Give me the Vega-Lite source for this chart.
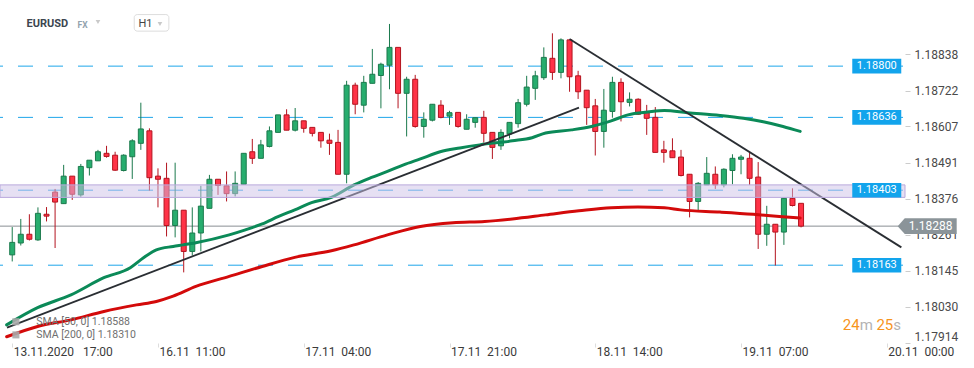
{
  "$schema": "https://vega.github.io/schema/vega-lite/v6.json",
  "width": 905,
  "height": 343,
  "autosize": "none",
  "padding": {"left": 0, "top": 0, "right": 69, "bottom": 25},
  "background": "white",
  "config": {"view": {"stroke": null}, "font": "Roboto"},
  "data": {"values": [{}]},
  "datasets": {
    "candles": [
      {"i":0,"o":1.18196,"h":1.18285,"l":1.18175,"c":1.18236},
      {"i":1,"o":1.18234,"h":1.18311,"l":1.18226,"c":1.18262},
      {"i":2,"o":1.18262,"h":1.18326,"l":1.18242,"c":1.18246},
      {"i":3,"o":1.18244,"h":1.18348,"l":1.18241,"c":1.18329},
      {"i":4,"o":1.18326,"h":1.18349,"l":1.18303,"c":1.18320},
      {"i":5,"o":1.18397,"h":1.18407,"l":1.18218,"c":1.18365},
      {"i":6,"o":1.18360,"h":1.18484,"l":1.18360,"c":1.18448},
      {"i":7,"o":1.18448,"h":1.18448,"l":1.18372,"c":1.18390},
      {"i":8,"o":1.18388,"h":1.18487,"l":1.18382,"c":1.18479},
      {"i":9,"o":1.18475,"h":1.18499,"l":1.18450,"c":1.18499},
      {"i":10,"o":1.18497,"h":1.18532,"l":1.18497,"c":1.18526},
      {"i":11,"o":1.18521,"h":1.18545,"l":1.18507,"c":1.18511},
      {"i":12,"o":1.18515,"h":1.18526,"l":1.18465,"c":1.18467},
      {"i":13,"o":1.18466,"h":1.18518,"l":1.18463,"c":1.18515},
      {"i":14,"o":1.18510,"h":1.18566,"l":1.18439,"c":1.18561},
      {"i":15,"o":1.18553,"h":1.18683,"l":1.18532,"c":1.18599},
      {"i":16,"o":1.18593,"h":1.18601,"l":1.18402,"c":1.18443},
      {"i":17,"o":1.18448,"h":1.18473,"l":1.18348,"c":1.18438},
      {"i":18,"o":1.18441,"h":1.18491,"l":1.18255,"c":1.18290},
      {"i":19,"o":1.18290,"h":1.18491,"l":1.18252,"c":1.18339},
      {"i":20,"o":1.18339,"h":1.18339,"l":1.18140,"c":1.18207},
      {"i":21,"o":1.18207,"h":1.18348,"l":1.18194,"c":1.18266},
      {"i":22,"o":1.18266,"h":1.18417,"l":1.18207,"c":1.18352},
      {"i":23,"o":1.18345,"h":1.18452,"l":1.18345,"c":1.18438},
      {"i":24,"o":1.18438,"h":1.18438,"l":1.18388,"c":1.18418},
      {"i":25,"o":1.18417,"h":1.18463,"l":1.18367,"c":1.18392},
      {"i":26,"o":1.18392,"h":1.18463,"l":1.18383,"c":1.18425},
      {"i":27,"o":1.18422,"h":1.18521,"l":1.18422,"c":1.18521},
      {"i":28,"o":1.18526,"h":1.18567,"l":1.18487,"c":1.18505},
      {"i":29,"o":1.18505,"h":1.18564,"l":1.18505,"c":1.18548},
      {"i":30,"o":1.18543,"h":1.18607,"l":1.18540,"c":1.18593},
      {"i":31,"o":1.18588,"h":1.18644,"l":1.18588,"c":1.18644},
      {"i":32,"o":1.18644,"h":1.18662,"l":1.18595,"c":1.18595},
      {"i":33,"o":1.18595,"h":1.18666,"l":1.18591,"c":1.18625},
      {"i":34,"o":1.18625,"h":1.18625,"l":1.18587,"c":1.18601},
      {"i":35,"o":1.18604,"h":1.18604,"l":1.18575,"c":1.18585},
      {"i":36,"o":1.18588,"h":1.18588,"l":1.18539,"c":1.18561},
      {"i":37,"o":1.18563,"h":1.18584,"l":1.18516,"c":1.18553},
      {"i":38,"o":1.18556,"h":1.18596,"l":1.18454,"c":1.18454},
      {"i":39,"o":1.18454,"h":1.18753,"l":1.18425,"c":1.18739},
      {"i":40,"o":1.18739,"h":1.18747,"l":1.18646,"c":1.18678},
      {"i":41,"o":1.18675,"h":1.18769,"l":1.18652,"c":1.18748},
      {"i":42,"o":1.18745,"h":1.18855,"l":1.18745,"c":1.18774},
      {"i":43,"o":1.18770,"h":1.18811,"l":1.18665,"c":1.18806},
      {"i":44,"o":1.18803,"h":1.18935,"l":1.18726,"c":1.18860},
      {"i":45,"o":1.18860,"h":1.18860,"l":1.18665,"c":1.18713},
      {"i":46,"o":1.18713,"h":1.18766,"l":1.18575,"c":1.18758},
      {"i":47,"o":1.18758,"h":1.18772,"l":1.18603,"c":1.18607},
      {"i":48,"o":1.18607,"h":1.18652,"l":1.18571,"c":1.18630},
      {"i":49,"o":1.18627,"h":1.18678,"l":1.18623,"c":1.18678},
      {"i":50,"o":1.18675,"h":1.18691,"l":1.18633,"c":1.18636},
      {"i":51,"o":1.18640,"h":1.18657,"l":1.18612,"c":1.18651},
      {"i":52,"o":1.18652,"h":1.18652,"l":1.18603,"c":1.18607},
      {"i":53,"o":1.18598,"h":1.18646,"l":1.18598,"c":1.18630},
      {"i":54,"o":1.18620,"h":1.18635,"l":1.18603,"c":1.18635},
      {"i":55,"o":1.18636,"h":1.18657,"l":1.18555,"c":1.18585},
      {"i":56,"o":1.18588,"h":1.18588,"l":1.18503,"c":1.18540},
      {"i":57,"o":1.18545,"h":1.18598,"l":1.18532,"c":1.18588},
      {"i":58,"o":1.18583,"h":1.18620,"l":1.18569,"c":1.18620},
      {"i":59,"o":1.18616,"h":1.18695,"l":1.18603,"c":1.18683},
      {"i":60,"o":1.18678,"h":1.18769,"l":1.18671,"c":1.18733},
      {"i":61,"o":1.18729,"h":1.18785,"l":1.18692,"c":1.18769},
      {"i":62,"o":1.18763,"h":1.18860,"l":1.18756,"c":1.18828},
      {"i":63,"o":1.18825,"h":1.18905,"l":1.18756,"c":1.18780},
      {"i":64,"o":1.18780,"h":1.18889,"l":1.18761,"c":1.18884},
      {"i":65,"o":1.18884,"h":1.18884,"l":1.18718,"c":1.18766},
      {"i":66,"o":1.18769,"h":1.18785,"l":1.18695,"c":1.18718},
      {"i":67,"o":1.18723,"h":1.18723,"l":1.18612,"c":1.18667},
      {"i":68,"o":1.18673,"h":1.18695,"l":1.18514,"c":1.18591},
      {"i":69,"o":1.18591,"h":1.18727,"l":1.18539,"c":1.18659},
      {"i":70,"o":1.18655,"h":1.18766,"l":1.18635,"c":1.18748},
      {"i":71,"o":1.18748,"h":1.18761,"l":1.18623,"c":1.18686},
      {"i":72,"o":1.18684,"h":1.18716,"l":1.18671,"c":1.18694},
      {"i":73,"o":1.18694,"h":1.18697,"l":1.18644,"c":1.18646},
      {"i":74,"o":1.18655,"h":1.18676,"l":1.18580,"c":1.18633},
      {"i":75,"o":1.18636,"h":1.18669,"l":1.18524,"c":1.18524},
      {"i":76,"o":1.18532,"h":1.18561,"l":1.18491,"c":1.18524},
      {"i":77,"o":1.18529,"h":1.18569,"l":1.18507,"c":1.18507},
      {"i":78,"o":1.18509,"h":1.18532,"l":1.18447,"c":1.18450},
      {"i":79,"o":1.18454,"h":1.18454,"l":1.18316,"c":1.18367},
      {"i":80,"o":1.18367,"h":1.18429,"l":1.18335,"c":1.18425},
      {"i":81,"o":1.18420,"h":1.18509,"l":1.18420,"c":1.18457},
      {"i":82,"o":1.18454,"h":1.18479,"l":1.18407,"c":1.18420},
      {"i":83,"o":1.18420,"h":1.18473,"l":1.18412,"c":1.18470},
      {"i":84,"o":1.18466,"h":1.18518,"l":1.18422,"c":1.18505},
      {"i":85,"o":1.18502,"h":1.18516,"l":1.18454,"c":1.18509},
      {"i":86,"o":1.18505,"h":1.18527,"l":1.18420,"c":1.18441},
      {"i":87,"o":1.18445,"h":1.18493,"l":1.18215,"c":1.18262},
      {"i":88,"o":1.18262,"h":1.18353,"l":1.18225,"c":1.18294},
      {"i":89,"o":1.18294,"h":1.18294,"l":1.18162,"c":1.18269},
      {"i":90,"o":1.18269,"h":1.18377,"l":1.18228,"c":1.18377},
      {"i":91,"o":1.18377,"h":1.18409,"l":1.18351,"c":1.18354},
      {"i":92,"o":1.18361,"h":1.18361,"l":1.18284,"c":1.18288}
    ],
    "sma": [
      {"s":"50","i":-0.65,"v":1.17972},{"s":"50","i":2.96,"v":1.18027},{"s":"50","i":6.85,"v":1.18068},
      {"s":"50","i":10.69,"v":1.18123},{"s":"50","i":13.77,"v":1.18155},{"s":"50","i":15.31,"v":1.18187},
      {"s":"50","i":16.81,"v":1.18212},{"s":"50","i":18.77,"v":1.18223},{"s":"50","i":19.92,"v":1.18228},
      {"s":"50","i":21.42,"v":1.18235},{"s":"50","i":25.31,"v":1.18260},{"s":"50","i":27.19,"v":1.18276},
      {"s":"50","i":29.15,"v":1.18295},{"s":"50","i":31.07,"v":1.18319},{"s":"50","i":32.95,"v":1.18340},
      {"s":"50","i":34.91,"v":1.18363},{"s":"50","i":37.22,"v":1.18380},{"s":"50","i":39.87,"v":1.18420},
      {"s":"50","i":41.83,"v":1.18443},{"s":"50","i":43.76,"v":1.18463},{"s":"50","i":45.64,"v":1.18484},
      {"s":"50","i":47.6,"v":1.18503},{"s":"50","i":49.91,"v":1.18526},{"s":"50","i":52.21,"v":1.18538},
      {"s":"50","i":54.52,"v":1.18548},{"s":"50","i":58.33,"v":1.18561},{"s":"50","i":60.63,"v":1.18571},
      {"s":"50","i":62.21,"v":1.18586},{"s":"50","i":65.25,"v":1.18596},{"s":"50","i":67.55,"v":1.18607},
      {"s":"50","i":69.86,"v":1.18625},{"s":"50","i":71.82,"v":1.18644},{"s":"50","i":74.13,"v":1.18653},
      {"s":"50","i":76.06,"v":1.18658},{"s":"50","i":78.74,"v":1.18651},{"s":"50","i":82.55,"v":1.18642},
      {"s":"50","i":85.28,"v":1.18633},{"s":"50","i":87.59,"v":1.18622},{"s":"50","i":89.9,"v":1.18607},
      {"s":"50","i":91.9,"v":1.18591},
      {"s":"200","i":-0.65,"v":1.17934},{"s":"200","i":2.96,"v":1.17967},{"s":"200","i":6.85,"v":1.17988},
      {"s":"200","i":10.69,"v":1.18015},{"s":"200","i":14.5,"v":1.18036},{"s":"200","i":16.81,"v":1.18047},
      {"s":"200","i":18.77,"v":1.18064},{"s":"200","i":21.42,"v":1.18095},{"s":"200","i":25.31,"v":1.18127},
      {"s":"200","i":29.15,"v":1.18159},{"s":"200","i":32.95,"v":1.18188},{"s":"200","i":37.22,"v":1.18209},
      {"s":"200","i":39.87,"v":1.18228},{"s":"200","i":43.76,"v":1.18260},{"s":"200","i":47.6,"v":1.18287},
      {"s":"200","i":51.41,"v":1.18299},{"s":"200","i":55.1,"v":1.18303},{"s":"200","i":58.33,"v":1.18311},
      {"s":"200","i":62.21,"v":1.18324},{"s":"200","i":66.09,"v":1.18337},{"s":"200","i":69.86,"v":1.18347},
      {"s":"200","i":72.98,"v":1.18349},{"s":"200","i":76.06,"v":1.18347},{"s":"200","i":77.94,"v":1.18340},
      {"s":"200","i":82.55,"v":1.18333},{"s":"200","i":86.43,"v":1.18326},{"s":"200","i":89.47,"v":1.18319},
      {"s":"200","i":91.9,"v":1.18314}
    ],
    "trend": [
      {"g":1,"i":-0.61,"v":1.17963},{"g":1,"i":66.1,"v":1.18667},
      {"g":2,"i":65.0,"v":1.18887},{"g":2,"i":103.7,"v":1.18220}
    ],
    "levels": [{"v":1.18800},{"v":1.18636},{"v":1.18403},{"v":1.18163}],
    "band": [{"lo":1.18380,"hi":1.18420}],
    "price": [{"v":1.18288}]
  },
  "layer": [
    {
      "data": {"name": "levels"},
      "mark": {"type": "rule", "color": "#1ea6ea", "strokeWidth": 1, "strokeDash": [15, 15], "strokeDashOffset": 28},
      "encoding": {
        "y": {"field": "v", "type": "quantitative", "scale": {"domain": [1.17914, 1.190116], "nice": false, "zero": false}}
      }
    },
    {
      "data": {"name": "price"},
      "mark": {"type": "rule", "color": "#8a8f93", "strokeWidth": 1},
      "encoding": {
        "y": {"field": "v", "type": "quantitative", "scale": {"domain": [1.17914, 1.190116], "nice": false, "zero": false}}
      }
    },
    {
      "data": {"name": "candles"},
      "mark": {"type": "rule", "strokeWidth": 1},
      "encoding": {
        "x": {"field": "i", "type": "quantitative", "scale": {"domain": [-0.842, 103.54], "nice": false, "zero": false},
          "axis": {"values": [0, 17, 34, 51, 68, 85, 102], "title": null, "grid": false, "domain": false,
            "labelExpr": "datum.value == 0 ? '13.11.2020\u00a0\u00a0 17:00' : datum.value == 17 ? '16.11\u00a0 11:00' : datum.value == 34 ? '17.11\u00a0 04:00' : datum.value == 51 ? '17.11\u00a0 21:00' : datum.value == 68 ? '18.11\u00a0 14:00' : datum.value == 85 ? '19.11\u00a0 07:00' : '20.11\u00a0 00:00'",
            "labelAlign": "left", "labelOffset": 1, "labelFontSize": 12, "labelColor": "#3a3a3a", "labelPadding": -1,
            "tickColor": "#dddddd", "tickSize": 4, "labelOverlap": false, "labelBound": false, "labelFlush": false}},
        "y": {"field": "l", "type": "quantitative", "scale": {"domain": [1.17914, 1.190116], "nice": false, "zero": false},
          "axis": {"orient": "right", "values": [1.17914, 1.1803, 1.18145, 1.18261, 1.18376, 1.18491, 1.18607, 1.18722, 1.18838],
            "format": ".5f", "title": null, "grid": false, "domain": false, "labelFontSize": 12, "labelColor": "#4a4a4a",
            "tickColor": "#cccccc", "tickSize": 5, "labelPadding": 4, "labelFlush": true, "labelOverlap": false}},
        "y2": {"field": "h"},
        "color": {"condition": {"test": "datum.c >= datum.o", "value": "#1b7a4d"}, "value": "#b3141f"}
      }
    },
    {
      "data": {"name": "candles"},
      "mark": {"type": "bar", "width": 5, "strokeWidth": 1},
      "encoding": {
        "x": {"field": "i", "type": "quantitative", "scale": {"domain": [-0.842, 103.54], "nice": false, "zero": false}},
        "y": {"field": "o", "type": "quantitative", "scale": {"domain": [1.17914, 1.190116], "nice": false, "zero": false}},
        "y2": {"field": "c"},
        "fill": {"condition": {"test": "datum.c >= datum.o", "value": "#27ad6e"}, "value": "#ff3347"},
        "stroke": {"condition": {"test": "datum.c >= datum.o", "value": "#1b7a4d"}, "value": "#b3141f"}
      }
    },
    {
      "data": {"name": "sma"},
      "mark": {"type": "line", "strokeWidth": 3, "strokeCap": "round", "interpolate": "monotone"},
      "encoding": {
        "x": {"field": "i", "type": "quantitative", "scale": {"domain": [-0.842, 103.54], "nice": false, "zero": false}},
        "y": {"field": "v", "type": "quantitative", "scale": {"domain": [1.17914, 1.190116], "nice": false, "zero": false}},
        "color": {"field": "s", "type": "nominal", "scale": {"domain": ["50", "200"], "range": ["#0b8a58", "#d30a0a"]}, "legend": null}
      }
    },
    {
      "data": {"name": "trend"},
      "mark": {"type": "line", "strokeWidth": 1.8, "color": "#2a2e33", "clip": true},
      "encoding": {
        "x": {"field": "i", "type": "quantitative", "scale": {"domain": [-0.842, 103.54], "nice": false, "zero": false}},
        "y": {"field": "v", "type": "quantitative", "scale": {"domain": [1.17914, 1.190116], "nice": false, "zero": false}},
        "detail": {"field": "g", "type": "nominal"}
      }
    },
    {
      "data": {"name": "band"},
      "mark": {"type": "rect", "fill": "#cdc1e7", "fillOpacity": 0.5, "stroke": "#b9a8dc", "strokeWidth": 1},
      "encoding": {
        "y": {"field": "lo", "type": "quantitative", "scale": {"domain": [1.17914, 1.190116], "nice": false, "zero": false}},
        "y2": {"field": "hi"}
      }
    },
    {
      "data": {"name": "levels"},
      "mark": {"type": "point", "shape": "M-1,-0.296L1,-0.296L1,0.296L-1,0.296Z", "size": 2401, "filled": true, "color": "#12a4ec", "opacity": 1, "strokeWidth": 0},
      "encoding": {
        "x": {"datum": 100.83, "type": "quantitative", "scale": {"domain": [-0.842, 103.54], "nice": false, "zero": false}},
        "y": {"field": "v", "type": "quantitative", "scale": {"domain": [1.17914, 1.190116], "nice": false, "zero": false}}
      }
    },
    {
      "data": {"name": "levels"},
      "mark": {"type": "text", "color": "white", "fontSize": 11, "align": "center", "baseline": "middle"},
      "encoding": {
        "x": {"datum": 100.83, "type": "quantitative", "scale": {"domain": [-0.842, 103.54], "nice": false, "zero": false}},
        "y": {"field": "v", "type": "quantitative", "scale": {"domain": [1.17914, 1.190116], "nice": false, "zero": false}},
        "text": {"field": "v", "type": "quantitative", "format": ".5f"}
      }
    },
    {
      "data": {"name": "price"},
      "mark": {"type": "point", "shape": "M-1,0L-0.76,-0.27L1,-0.27L1,0.27L-0.76,0.27Z", "size": 3481, "filled": true, "color": "#8b9499", "opacity": 1, "strokeWidth": 0},
      "encoding": {
        "x": {"datum": 106.71, "type": "quantitative", "scale": {"domain": [-0.842, 103.54], "nice": false, "zero": false}},
        "y": {"field": "v", "type": "quantitative", "scale": {"domain": [1.17914, 1.190116], "nice": false, "zero": false}}
      }
    },
    {
      "data": {"name": "price"},
      "mark": {"type": "text", "color": "white", "fontSize": 12, "align": "center", "baseline": "middle"},
      "encoding": {
        "x": {"datum": 107.11, "type": "quantitative", "scale": {"domain": [-0.842, 103.54], "nice": false, "zero": false}},
        "y": {"field": "v", "type": "quantitative", "scale": {"domain": [1.17914, 1.190116], "nice": false, "zero": false}},
        "text": {"field": "v", "type": "quantitative", "format": ".5f"}
      }
    },
    {
      "mark": {"type": "text", "text": "24", "color": "#f7941d", "fontSize": 15, "align": "right", "baseline": "middle", "dx": -40.3},
      "encoding": {
        "x": {"datum": 103.54, "type": "quantitative", "scale": {"domain": [-0.842, 103.54], "nice": false, "zero": false}},
        "y": {"datum": 1.17972, "type": "quantitative", "scale": {"domain": [1.17914, 1.190116], "nice": false, "zero": false}}
      }
    },
    {
      "mark": {"type": "text", "text": "m", "color": "#b3b3b3", "fontSize": 15, "align": "right", "baseline": "middle", "dx": -27.2},
      "encoding": {
        "x": {"datum": 103.54, "type": "quantitative", "scale": {"domain": [-0.842, 103.54], "nice": false, "zero": false}},
        "y": {"datum": 1.17972, "type": "quantitative", "scale": {"domain": [1.17914, 1.190116], "nice": false, "zero": false}}
      }
    },
    {
      "mark": {"type": "text", "text": "25", "color": "#f7941d", "fontSize": 15, "align": "right", "baseline": "middle", "dx": -6.7},
      "encoding": {
        "x": {"datum": 103.54, "type": "quantitative", "scale": {"domain": [-0.842, 103.54], "nice": false, "zero": false}},
        "y": {"datum": 1.17972, "type": "quantitative", "scale": {"domain": [1.17914, 1.190116], "nice": false, "zero": false}}
      }
    },
    {
      "mark": {"type": "text", "text": "s", "color": "#b3b3b3", "fontSize": 15, "align": "right", "baseline": "middle", "dx": 1},
      "encoding": {
        "x": {"datum": 103.54, "type": "quantitative", "scale": {"domain": [-0.842, 103.54], "nice": false, "zero": false}},
        "y": {"datum": 1.17972, "type": "quantitative", "scale": {"domain": [1.17914, 1.190116], "nice": false, "zero": false}}
      }
    },
    {
      "mark": {"type": "text", "text": "EURUSD", "color": "#3c4650", "fontSize": 11, "fontWeight": "bold", "align": "left", "baseline": "middle"},
      "encoding": {
        "x": {"datum": 1.66, "type": "quantitative", "scale": {"domain": [-0.842, 103.54], "nice": false, "zero": false}},
        "y": {"datum": 1.18935, "type": "quantitative", "scale": {"domain": [1.17914, 1.190116], "nice": false, "zero": false}}
      }
    },
    {
      "mark": {"type": "text", "text": "FX", "color": "#93a3ae", "fontSize": 8.5, "fontWeight": "bold", "align": "left", "baseline": "middle"},
      "encoding": {
        "x": {"datum": 7.61, "type": "quantitative", "scale": {"domain": [-0.842, 103.54], "nice": false, "zero": false}},
        "y": {"datum": 1.18933, "type": "quantitative", "scale": {"domain": [1.17914, 1.190116], "nice": false, "zero": false}}
      }
    },
    {
      "mark": {"type": "point", "shape": "triangle-down", "size": 22, "filled": true, "color": "#c9c9c9", "opacity": 1},
      "encoding": {
        "x": {"datum": 10.0, "type": "quantitative", "scale": {"domain": [-0.842, 103.54], "nice": false, "zero": false}},
        "y": {"datum": 1.18941, "type": "quantitative", "scale": {"domain": [1.17914, 1.190116], "nice": false, "zero": false}}
      }
    },
    {
      "mark": {"type": "rect", "fill": "white", "stroke": "#dddddd", "strokeWidth": 1, "cornerRadius": 3},
      "encoding": {
        "x": {"datum": 14.23, "type": "quantitative", "scale": {"domain": [-0.842, 103.54], "nice": false, "zero": false}},
        "x2": {"datum": 18.27},
        "y": {"datum": 1.18965, "type": "quantitative", "scale": {"domain": [1.17914, 1.190116], "nice": false, "zero": false}},
        "y2": {"datum": 1.18912}
      }
    },
    {
      "mark": {"type": "text", "text": "H1", "color": "#444444", "fontSize": 11, "align": "left", "baseline": "middle"},
      "encoding": {
        "x": {"datum": 14.73, "type": "quantitative", "scale": {"domain": [-0.842, 103.54], "nice": false, "zero": false}},
        "y": {"datum": 1.18934, "type": "quantitative", "scale": {"domain": [1.17914, 1.190116], "nice": false, "zero": false}}
      }
    },
    {
      "mark": {"type": "point", "shape": "triangle-down", "size": 22, "filled": true, "color": "#c9c9c9", "opacity": 1},
      "encoding": {
        "x": {"datum": 17.23, "type": "quantitative", "scale": {"domain": [-0.842, 103.54], "nice": false, "zero": false}},
        "y": {"datum": 1.18935, "type": "quantitative", "scale": {"domain": [1.17914, 1.190116], "nice": false, "zero": false}}
      }
    },
    {
      "mark": {"type": "text", "text": "SMA [50,  0] 1.18588", "color": "#6f6f6f", "fontSize": 10.5, "align": "left", "baseline": "middle"},
      "encoding": {
        "x": {"datum": 2.81, "type": "quantitative", "scale": {"domain": [-0.842, 103.54], "nice": false, "zero": false}},
        "y": {"datum": 1.17982, "type": "quantitative", "scale": {"domain": [1.17914, 1.190116], "nice": false, "zero": false}}
      }
    },
    {
      "mark": {"type": "text", "text": "SMA [200,  0] 1.18310", "color": "#6f6f6f", "fontSize": 10.5, "align": "left", "baseline": "middle"},
      "encoding": {
        "x": {"datum": 2.81, "type": "quantitative", "scale": {"domain": [-0.842, 103.54], "nice": false, "zero": false}},
        "y": {"datum": 1.1794, "type": "quantitative", "scale": {"domain": [1.17914, 1.190116], "nice": false, "zero": false}}
      }
    },
    {
      "mark": {"type": "point", "shape": "square", "size": 50, "filled": true, "color": "#a8a8a8", "opacity": 0.9},
      "encoding": {
        "x": {"datum": 0.43, "type": "quantitative", "scale": {"domain": [-0.842, 103.54], "nice": false, "zero": false}},
        "y": {"datum": 1.17982, "type": "quantitative", "scale": {"domain": [1.17914, 1.190116], "nice": false, "zero": false}}
      }
    },
    {
      "mark": {"type": "point", "shape": "square", "size": 50, "filled": true, "color": "#a8a8a8", "opacity": 0.9},
      "encoding": {
        "x": {"datum": 0.43, "type": "quantitative", "scale": {"domain": [-0.842, 103.54], "nice": false, "zero": false}},
        "y": {"datum": 1.1794, "type": "quantitative", "scale": {"domain": [1.17914, 1.190116], "nice": false, "zero": false}}
      }
    }
  ]
}
